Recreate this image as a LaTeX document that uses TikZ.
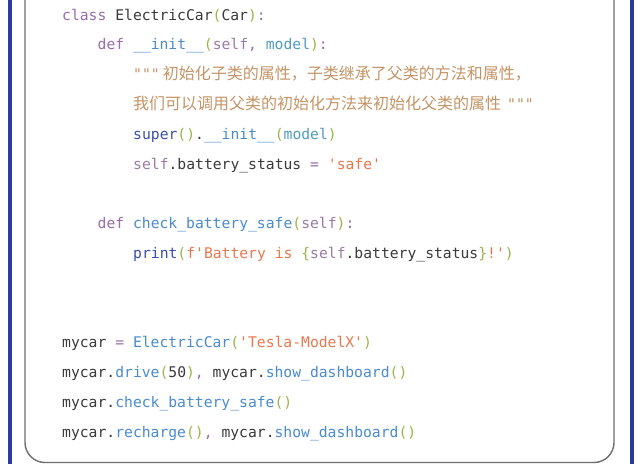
\documentclass[tikz,border=0pt]{standalone}
\usepackage{fontspec}
\setmonofont{DejaVu Sans Mono}
\newfontfamily\cjk{Noto Sans CJK SC}
\usepackage{tikz}

\definecolor{barblue}{HTML}{2E3B9E}
\definecolor{boxgray}{HTML}{6E6E6E}
\definecolor{kwcol}{HTML}{9A6DAA}
\definecolor{selfcol}{HTML}{9B7BA6}
\definecolor{txtcol}{HTML}{3A3A3A}
\definecolor{parcol}{HTML}{9CB44A}
\definecolor{fncol}{HTML}{4A8BD0}
\definecolor{argcol}{HTML}{4F9DBE}
\definecolor{bltcol}{HTML}{3B4FA8}
\definecolor{strcol}{HTML}{E8784C}
\definecolor{doccol}{HTML}{C49466}

\newcommand{\kwd}[1]{\textcolor{kwcol}{#1}}
\newcommand{\slf}[1]{\textcolor{selfcol}{#1}}
\newcommand{\prn}[1]{\textcolor{parcol}{#1}}
\newcommand{\fnm}[1]{\textcolor{fncol}{#1}}
\newcommand{\argm}[1]{\textcolor{argcol}{#1}}
\newcommand{\bltn}[1]{\textcolor{bltcol}{#1}}
\newcommand{\strg}[1]{\textcolor{strcol}{#1}}
\newcommand{\dstr}[1]{\textcolor{doccol}{#1}}

\begin{document}
\begin{tikzpicture}[x=1pt,y=-1pt,
	codeline/.style={anchor=base west,inner sep=0pt,text=txtcol,
		font=\ttfamily\fontsize{14.7}{16}\selectfont},
	cjkline/.style={codeline,text=doccol}]
\useasboundingbox (0,0) rectangle (639,464);
\clip (0,0) rectangle (639,464);
\fill[white] (0,0) rectangle (639,464);
% side bars and code box
\fill[barblue] (7.5,0) rectangle (11.5,464);
\fill[barblue] (629.5,0) rectangle (633.5,464);
\draw[boxgray, line width=1.4pt, rounded corners=20pt] (25,-40) rectangle (614,462.5);
% class definition
\node[codeline] (l1) at (62,20) {\kwd{class} ElectricCar\prn{(}Car\prn{)}\kwd{:}};
\node[codeline] (l2) at (97.5,49.8) {\kwd{def} \fnm{\_\_init\_\_}\prn{(}\slf{self}\kwd{,} \argm{model}\prn{)}\kwd{:}};
\node[cjkline] (l3) at (133,79.6) {"""\hspace{3pt}{\cjk\fontsize{16}{18}\selectfont 初始化子类的属性，子类继承了父类的方法和属性，}};
\node[cjkline] (l4) at (133,109.4) {{\cjk\fontsize{16}{18}\selectfont 我们可以调用父类的初始化方法来初始化父类的属性}\hspace{6pt}"""};
\node[codeline] (l5) at (133,139.2) {\bltn{super}\prn{()}.\fnm{\_\_init\_\_}\prn{(}\argm{model}\prn{)}};
\node[codeline] (l6) at (133,169) {\slf{self}.battery\_status \kwd{=} \strg{'safe'}};
\node[codeline] (l8) at (97.5,228.6) {\kwd{def} \fnm{check\_battery\_safe}\prn{(}\slf{self}\prn{)}\kwd{:}};
\node[codeline] (l9) at (133,258.4) {\bltn{print}\prn{(}\strg{f'Battery is }\prn{\{}\slf{self}.battery\_status\prn{\}}\strg{!'}\prn{)}};
% using the class
\node[codeline] (l12) at (62,347.8) {mycar \kwd{=} \fnm{ElectricCar}\prn{(}\strg{'Tesla-ModelX'}\prn{)}};
\node[codeline] (l13) at (62,377.6) {mycar.\fnm{drive}\prn{(}50\prn{)}\kwd{,} mycar.\fnm{show\_dashboard}\prn{()}};
\node[codeline] (l14) at (62,407.4) {mycar.\fnm{check\_battery\_safe}\prn{()}};
\node[codeline] (l15) at (62,437.2) {mycar.\fnm{recharge}\prn{()}\kwd{,} mycar.\fnm{show\_dashboard}\prn{()}};
\end{tikzpicture}
\end{document}
